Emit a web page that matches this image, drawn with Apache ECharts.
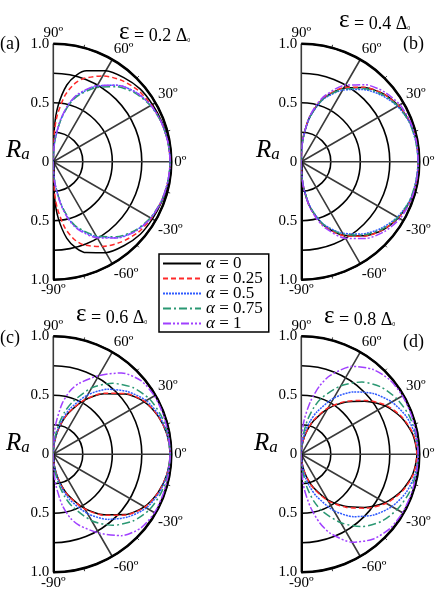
<!DOCTYPE html>
<html><head><meta charset="utf-8">
<script src="https://cdn.jsdelivr.net/npm/echarts@6/dist/echarts.min.js"></script>
<style>html,body{margin:0;padding:0;background:#fff}#c{width:436px;height:596px}</style>
</head><body><div id="c"></div>
<script>
// incidence angles (degrees)
const angles = [-90,-88,-85,-80,-75,-70,-60,-50,-40,-30,-20,-10,0,10,20,30,40,50,60,70,75,80,85,88,90];
const alphaNames = ['0','0.25','0.5','0.75','1'];
const energyLabels = ['0.2','0.4','0.6','0.8'];
const panelLetters = ['(a)','(b)','(c)','(d)'];
const angleTicks = [-90,-60,-30,0,30,60,90];
const radiusTickLabels = ['0','0.5','1.0'];

// R_a values, panel (a) eps = 0.2 Delta0
const A0   = [0,0.30,0.48,0.66,0.76,0.82,0.89,0.93,0.96,0.97,0.98,0.99,0.99,0.99,0.98,0.97,0.96,0.93,0.89,0.82,0.76,0.66,0.48,0.30,0];
const A25  = [0,0.25,0.40,0.57,0.68,0.75,0.83,0.89,0.935,0.96,0.975,0.985,0.99,0.985,0.975,0.96,0.94,0.90,0.84,0.75,0.68,0.57,0.40,0.25,0];
const A50  = [0,0.10,0.20,0.36,0.50,0.60,0.735,0.84,0.91,0.955,0.975,0.985,0.99,0.985,0.975,0.955,0.915,0.845,0.74,0.60,0.50,0.36,0.20,0.10,0];
const A75  = [0,0.10,0.20,0.355,0.49,0.59,0.725,0.83,0.905,0.95,0.975,0.985,0.99,0.985,0.975,0.95,0.905,0.83,0.725,0.59,0.49,0.355,0.20,0.10,0];
const A100 = [0,0.11,0.21,0.37,0.51,0.61,0.745,0.845,0.915,0.955,0.975,0.985,0.99,0.985,0.975,0.955,0.915,0.845,0.745,0.61,0.51,0.37,0.21,0.11,0];
// panel (b) eps = 0.4 Delta0
const B0   = [0,0.12,0.22,0.37,0.48,0.58,0.72,0.82,0.90,0.95,0.98,0.99,0.99,0.99,0.98,0.95,0.90,0.82,0.72,0.58,0.48,0.37,0.22,0.12,0];
const B25  = [0,0.12,0.22,0.37,0.485,0.585,0.725,0.825,0.90,0.95,0.98,0.99,0.99,0.99,0.98,0.95,0.90,0.825,0.725,0.585,0.485,0.37,0.22,0.12,0];
const B50  = [0,0.11,0.21,0.36,0.47,0.57,0.70,0.80,0.88,0.94,0.975,0.985,0.99,0.985,0.975,0.94,0.88,0.80,0.70,0.57,0.47,0.36,0.21,0.11,0];
const B75  = [0,0.115,0.215,0.365,0.475,0.575,0.71,0.81,0.89,0.945,0.975,0.985,0.99,0.985,0.975,0.945,0.89,0.81,0.71,0.575,0.475,0.365,0.215,0.115,0];
const B100 = [0,0.12,0.22,0.38,0.50,0.60,0.75,0.85,0.92,0.965,0.985,0.99,0.99,0.99,0.985,0.965,0.92,0.85,0.75,0.60,0.50,0.38,0.22,0.12,0];
// panel (c) eps = 0.6 Delta0
const C0   = [0,0.04,0.095,0.19,0.28,0.37,0.53,0.67,0.795,0.89,0.945,0.978,0.99,0.978,0.945,0.89,0.795,0.67,0.53,0.37,0.28,0.19,0.095,0.04,0];
const C25  = [0,0.04,0.10,0.195,0.285,0.375,0.535,0.675,0.80,0.895,0.947,0.978,0.99,0.978,0.947,0.895,0.80,0.675,0.535,0.375,0.285,0.195,0.10,0.04,0];
const C50  = [0,0.045,0.11,0.21,0.31,0.41,0.58,0.72,0.825,0.91,0.955,0.98,0.99,0.98,0.955,0.91,0.825,0.72,0.58,0.41,0.31,0.21,0.11,0.045,0];
const C75  = [0,0.05,0.13,0.25,0.37,0.47,0.65,0.785,0.88,0.94,0.97,0.985,0.99,0.985,0.97,0.94,0.88,0.785,0.65,0.47,0.37,0.25,0.13,0.05,0];
const C100 = [0,0.15,0.27,0.44,0.56,0.64,0.77,0.90,0.97,0.99,0.99,0.99,0.99,0.99,0.99,0.99,0.97,0.90,0.77,0.64,0.56,0.44,0.27,0.15,0];
// panel (d) eps = 0.8 Delta0
const D0   = [0,0.03,0.075,0.15,0.225,0.30,0.445,0.575,0.70,0.82,0.905,0.96,0.98,0.96,0.905,0.82,0.70,0.575,0.445,0.30,0.225,0.15,0.075,0.03,0];
const D25  = [0,0.03,0.078,0.155,0.232,0.31,0.455,0.585,0.71,0.83,0.912,0.965,0.98,0.965,0.912,0.83,0.71,0.585,0.455,0.31,0.232,0.155,0.078,0.03,0];
const D50  = [0,0.04,0.10,0.20,0.29,0.38,0.55,0.69,0.80,0.886,0.945,0.979,0.99,0.979,0.945,0.886,0.80,0.69,0.55,0.38,0.29,0.20,0.10,0.04,0];
const D75  = [0,0.06,0.15,0.29,0.41,0.51,0.67,0.80,0.885,0.937,0.97,0.985,0.99,0.985,0.97,0.937,0.885,0.80,0.67,0.51,0.41,0.29,0.15,0.06,0];
const D100 = [0,0.17,0.30,0.46,0.60,0.71,0.86,0.94,0.98,0.99,0.99,0.99,0.99,0.99,0.99,0.99,0.98,0.94,0.86,0.71,0.60,0.46,0.30,0.17,0];

const panelData = [[A0,A25,A50,A75,A100],[B0,B25,B50,B75,B100],[C0,C25,C50,C75,C100],[D0,D25,D50,D75,D100]];

const FONT = 'Liberation Serif';
const colors = ['#000000','#ff2a2a','#2f5bff','#2a9873','#a040ff'];
const dashes = ['solid',[5,3],[2,1],[8,3,2,3],[8,2,2,2,2,2]];
const centers = [[53.3,161.7],[301.3,161.7],[53.3,454.3],[301.3,454.3]];
const R = 118;
const titlePos = [[119,20],[339,8],[76,302],[324,304]];
const letterPos = [[0,35],[403,35],[0,329],[403,333]];
const raPos = [[6,138],[256,138],[6,431],[254,431]];

const polar = [], angleAxis = [], radiusAxis = [], series = [], title = [];
centers.forEach((c, p) => {
  // main polar (grid + data)
  polar.push({center: c, radius: R});
  angleAxis.push({
    polarIndex: 2*p, type: 'value', min: -90, max: 90, interval: 30,
    startAngle: -90, endAngle: 90, clockwise: false,
    axisLine: {lineStyle: {color: '#000', width: 2.5}},
    axisTick: {show: false},
    minorTick: {show: true, splitNumber: 2, length: 3, lineStyle: {color: '#333', width: 1}},
    splitLine: {show: true, lineStyle: {color: '#3a3a3a', width: 1.6}},
    axisLabel: {margin: 3, fontFamily: FONT, fontSize: 15, color: '#000',
      formatter: v => angleTicks.indexOf(v) >= 0 ? v + 'º' : ''}
  });
  radiusAxis.push({
    polarIndex: 2*p, type: 'value', min: 0, max: 1, interval: 0.25,
    axisLine: {show: true, lineStyle: {color: '#000', width: 2}},
    axisTick: {show: false},
    splitLine: {show: true, lineStyle: {color: '#000', width: 1.6}},
    axisLabel: {margin: -4, align: 'right', fontFamily: FONT, fontSize: 15, color: '#000',
      formatter: v => v === 0.5 ? radiusTickLabels[1] : (v === 1 ? radiusTickLabels[2] : '')}
  });
  // auxiliary polar to carry the upward radial labels
  polar.push({center: c, radius: R});
  angleAxis.push({polarIndex: 2*p+1, type: 'value', min: 0, max: 180,
    startAngle: 90, endAngle: 270, clockwise: false, show: false});
  radiusAxis.push({
    polarIndex: 2*p+1, type: 'value', min: 0, max: 1, interval: 0.25,
    axisLine: {show: false}, axisTick: {show: false}, splitLine: {show: false},
    axisLabel: {margin: 4, fontFamily: FONT, fontSize: 15, color: '#000',
      formatter: v => v === 0 ? radiusTickLabels[0] : (v === 0.5 ? radiusTickLabels[1] : (v === 1 ? radiusTickLabels[2] : ''))}
  });
  panelData[p].forEach((vals, k) => {
    series.push({
      type: 'line', name: alphaNames[k], coordinateSystem: 'polar', polarIndex: 2*p,
      data: angles.map((a, i) => [vals[i], a]),
      symbol: 'none', showSymbol: false, smooth: 0.25, clip: false,
      lineStyle: {color: colors[k], width: 1.5, type: dashes[k]},
      itemStyle: {color: colors[k]},
      z: 3 + k
    });
  });
  title.push({
    left: titlePos[p][0], top: titlePos[p][1], padding: 0,
    text: '{e|ε}{t| = ' + energyLabels[p] + ' }{d|Δ}{s|0}',
    textStyle: {fontWeight: 'normal', rich: {
      e: {fontFamily: FONT, fontSize: 25, fontWeight: 'normal', color: '#000', verticalAlign: 'bottom'},
      t: {fontFamily: FONT, fontSize: 18, fontWeight: 'normal', color: '#000', verticalAlign: 'bottom'},
      d: {fontFamily: FONT, fontSize: 18, fontWeight: 'normal', color: '#000', verticalAlign: 'bottom'},
      s: {fontFamily: FONT, fontSize: 6, fontWeight: 'normal', color: '#000', verticalAlign: 'bottom', padding: [0,0,2,0]}
    }}
  });
  title.push({left: letterPos[p][0], top: letterPos[p][1], padding: 0, text: panelLetters[p],
    textStyle: {fontFamily: FONT, fontSize: 18, fontWeight: 'normal', color: '#000'}});
  title.push({left: raPos[p][0], top: raPos[p][1], padding: 0, text: '{r|R}{a|a}',
    textStyle: {fontWeight: 'normal', rich: {
      r: {fontFamily: FONT, fontStyle: 'italic', fontWeight: 'normal', fontSize: 25, color: '#000', verticalAlign: 'bottom'},
      a: {fontFamily: FONT, fontStyle: 'italic', fontWeight: 'normal', fontSize: 17, color: '#000', verticalAlign: 'bottom'}
    }}});
});

const chart = echarts.init(document.getElementById('c'), null, {renderer: 'canvas'});
chart.setOption({
  animation: false,
  backgroundColor: '#fff',
  title, polar, angleAxis, radiusAxis, series,
  legend: {
    data: alphaNames, orient: 'vertical', left: 159, top: 254, z: 20,
    backgroundColor: '#fff', borderColor: '#000', borderWidth: 1.5,
    padding: [1, 6, 0, 3], itemGap: -2, itemWidth: 38, itemHeight: 12,
    itemStyle: {opacity: 0},
    formatter: n => '{i|α} = ' + n,
    textStyle: {fontFamily: FONT, fontSize: 17, color: '#000', lineHeight: 15,
      rich: {i: {fontFamily: FONT, fontStyle: 'italic', fontSize: 17, color: '#000', lineHeight: 15}}}
  }
});
</script></body></html>
